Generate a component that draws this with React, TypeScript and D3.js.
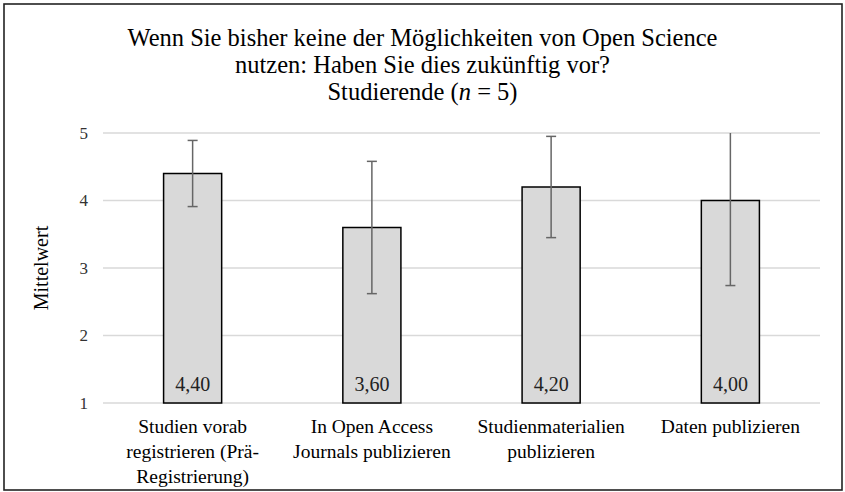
import React from "react";
import * as d3 from "d3";

const categories = [
  "Studien vorab registrieren (Prä-Registrierung)",
  "In Open Access Journals publizieren",
  "Studienmaterialien publizieren",
  "Daten publizieren",
];
const categoryLines = [
  ["Studien vorab", "registrieren (Prä-", "Registrierung)"],
  ["In Open Access", "Journals publizieren"],
  ["Studienmaterialien", "publizieren"],
  ["Daten publizieren"],
];
const means = [4.4, 3.6, 4.2, 4.0];
const errors = [0.49, 0.98, 0.75, 1.26];
const yTicks = [1, 2, 3, 4, 5];
const titleLines = [
  "Wenn Sie bisher keine der Möglichkeiten von Open Science",
  "nutzen: Haben Sie dies zukünftig vor?",
];

const W = 845;
const H = 492;
const margin = { top: 133, right: 25, bottom: 89, left: 103 };
const FONT = "'Liberation Serif', 'Times New Roman', serif";

export default function App() {
  const x = d3
    .scaleBand()
    .domain(categories)
    .range([margin.left, W - margin.right])
    .paddingInner(0.676)
    .paddingOuter(0.338);
  const y = d3
    .scaleLinear()
    .domain([1, 5])
    .range([H - margin.bottom, margin.top]);

  const fmt = (v: number) => v.toFixed(2).replace(".", ",");
  const cx = (c: string) => x(c)! + x.bandwidth() / 2;

  return (
    <svg
      width={W}
      height={H}
      style={{ position: "absolute", left: 0, top: 0, background: "#fff" }}
      fontFamily={FONT}
    >
      <rect x={4} y={4} width={838} height={486} fill="#fff" stroke="#222" strokeWidth={1.6} />

      {/* titel */}
      {titleLines.map((t, i) => (
        <text key={i} x={W / 2} y={46 + i * 27} textAnchor="middle" fontSize={24.5} fill="#000">
          {t}
        </text>
      ))}
      <text x={W / 2} y={100} textAnchor="middle" fontSize={24.5} fill="#000">
        Studierende (<tspan fontStyle="italic">n</tspan> = 5)
      </text>

      {/* gitter */}
      {yTicks.map((t) => (
        <g key={t}>
          <line
            x1={margin.left}
            x2={W - margin.right}
            y1={y(t)}
            y2={y(t)}
            stroke="#d9d9d9"
            strokeWidth={1.5}
          />
          <text x={88} y={y(t)} dy="0.35em" textAnchor="end" fontSize={17} fill="#333">
            {t}
          </text>
        </g>
      ))}

      <text
        transform={`translate(48, ${y(3)}) rotate(-90)`}
        textAnchor="middle"
        fontSize={20}
        fill="#000"
      >
        Mittelwert
      </text>

      {/* balken */}
      {categories.map((c, i) => (
        <rect
          key={c}
          x={x(c)}
          y={y(means[i])}
          width={x.bandwidth()}
          height={y(1) - y(means[i])}
          fill="#d9d9d9"
          stroke="#000"
          strokeWidth={1.5}
        />
      ))}

      {/* fehlerbalken */}
      {categories.map((c, i) => {
        const hi = means[i] + errors[i];
        const lo = means[i] - errors[i];
        const yHi = y(Math.min(hi, 5));
        const yLo = y(Math.max(lo, 1));
        return (
          <g key={c} stroke="#666" strokeWidth={1.5}>
            <line x1={cx(c)} x2={cx(c)} y1={yHi} y2={yLo} />
            {hi <= 5 && <line x1={cx(c) - 5} x2={cx(c) + 5} y1={yHi} y2={yHi} />}
            {lo >= 1 && <line x1={cx(c) - 5} x2={cx(c) + 5} y1={yLo} y2={yLo} />}
          </g>
        );
      })}

      {/* werte */}
      {categories.map((c, i) => (
        <text key={c} x={cx(c)} y={y(1) - 12} textAnchor="middle" fontSize={20} fill="#222">
          {fmt(means[i])}
        </text>
      ))}

      {/* kategorien */}
      {categories.map((c, i) => (
        <text key={c} x={cx(c)} textAnchor="middle" fontSize={19.5} fill="#000">
          {categoryLines[i].map((l, j) => (
            <tspan key={j} x={cx(c)} y={433 + j * 25}>
              {l}
            </tspan>
          ))}
        </text>
      ))}
    </svg>
  );
}
